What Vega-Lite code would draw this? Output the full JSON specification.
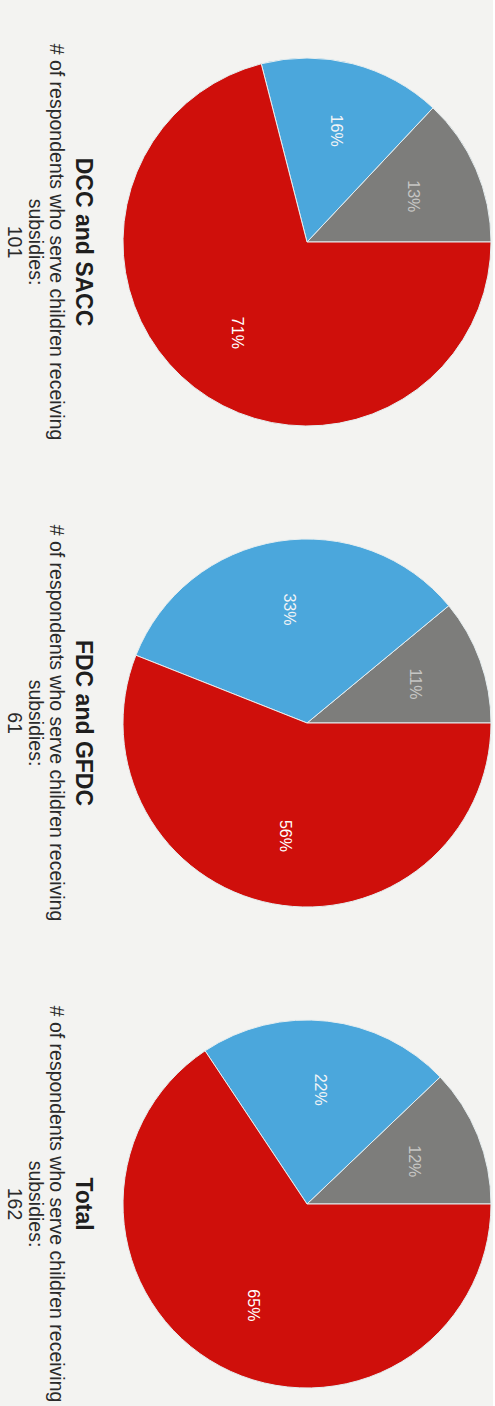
{
  "$schema": "https://vega.github.io/schema/vega-lite/v6.json",
  "background": "#f3f3f1",
  "padding": {"left": 3, "top": 7, "right": 0, "bottom": 0},
  "spacing": 11,
  "config": {
    "view": {"stroke": null},
    "font": "Liberation Sans",
    "title": {
      "orient": "left",
      "angle": 90,
      "anchor": "middle",
      "font": "Liberation Sans",
      "fontSize": 23,
      "fontWeight": "bold",
      "color": "#1e1e1e",
      "offset": 0
    }
  },
  "data": {
    "values": [
      {"panel": "DCC and SACC", "segment": 1, "share": 0.13},
      {"panel": "DCC and SACC", "segment": 2, "share": 0.16},
      {"panel": "DCC and SACC", "segment": 3, "share": 0.71},
      {"panel": "FDC and GFDC", "segment": 1, "share": 0.11},
      {"panel": "FDC and GFDC", "segment": 2, "share": 0.33},
      {"panel": "FDC and GFDC", "segment": 3, "share": 0.56},
      {"panel": "Total", "segment": 1, "share": 0.12},
      {"panel": "Total", "segment": 2, "share": 0.22},
      {"panel": "Total", "segment": 3, "share": 0.65}
    ]
  },
  "vconcat": [
    {
      "title": {"text": ["# of respondents who serve children receiving", "subsidies:", "101"], "fontWeight": "normal", "fontSize": 19.5, "lineHeight": 21, "color": "#2a2a2a", "offset": -55},
      "vconcat": [
        {
          "title": "DCC and SACC",
          "width": 370,
          "height": 470,
          "transform": [{"filter": "datum.panel === 'DCC and SACC'"}],
          "encoding": {
            "theta": {"field": "share", "type": "quantitative", "stack": true, "scale": {"range": [1.5708, -4.7124]}},
            "order": {"field": "segment", "type": "quantitative"}
          },
          "layer": [
            {
              "mark": {"type": "arc", "outerRadius": 184, "stroke": "#e6eef0", "strokeWidth": 1},
              "encoding": {"fill": {"field": "segment", "type": "nominal", "scale": {"domain": [1, 2, 3], "range": ["#7d7d7b", "#4ba7dc", "#cf0f0b"]}, "legend": null}}
            },
            {
              "mark": {"type": "text", "radius": 115, "angle": 90, "fontSize": 16, "font": "Liberation Sans"},
              "encoding": {
                "text": {"field": "share", "type": "quantitative", "format": ".0%"},
                "color": {"field": "segment", "type": "nominal", "scale": {"domain": [1, 2, 3], "range": ["#c6c6c4", "#f2f4f6", "#ffffff"]}, "legend": null}
              }
            }
          ]
        }
      ]
    },
    {
      "title": {"text": ["# of respondents who serve children receiving", "subsidies:", "61"], "fontWeight": "normal", "fontSize": 19.5, "lineHeight": 21, "color": "#2a2a2a", "offset": -55},
      "vconcat": [
        {
          "title": "FDC and GFDC",
          "width": 370,
          "height": 470,
          "transform": [{"filter": "datum.panel === 'FDC and GFDC'"}],
          "encoding": {
            "theta": {"field": "share", "type": "quantitative", "stack": true, "scale": {"range": [1.5708, -4.7124]}},
            "order": {"field": "segment", "type": "quantitative"}
          },
          "layer": [
            {
              "mark": {"type": "arc", "outerRadius": 184, "stroke": "#e6eef0", "strokeWidth": 1},
              "encoding": {"fill": {"field": "segment", "type": "nominal", "scale": {"domain": [1, 2, 3], "range": ["#7d7d7b", "#4ba7dc", "#cf0f0b"]}, "legend": null}}
            },
            {
              "mark": {"type": "text", "radius": 115, "angle": 90, "fontSize": 16, "font": "Liberation Sans"},
              "encoding": {
                "text": {"field": "share", "type": "quantitative", "format": ".0%"},
                "color": {"field": "segment", "type": "nominal", "scale": {"domain": [1, 2, 3], "range": ["#c6c6c4", "#c9dbe8", "#ffffff"]}, "legend": null}
              }
            }
          ]
        }
      ]
    },
    {
      "title": {"text": ["# of respondents who serve children receiving", "subsidies:", "162"], "fontWeight": "normal", "fontSize": 19.5, "lineHeight": 21, "color": "#2a2a2a", "offset": -55},
      "vconcat": [
        {
          "title": "Total",
          "width": 370,
          "height": 470,
          "transform": [{"filter": "datum.panel === 'Total'"}],
          "encoding": {
            "theta": {"field": "share", "type": "quantitative", "stack": true, "scale": {"range": [1.5708, -4.7124]}},
            "order": {"field": "segment", "type": "quantitative"}
          },
          "layer": [
            {
              "mark": {"type": "arc", "outerRadius": 184, "stroke": "#e6eef0", "strokeWidth": 1},
              "encoding": {"fill": {"field": "segment", "type": "nominal", "scale": {"domain": [1, 2, 3], "range": ["#7d7d7b", "#4ba7dc", "#cf0f0b"]}, "legend": null}}
            },
            {
              "mark": {"type": "text", "radius": 115, "angle": 90, "fontSize": 16, "font": "Liberation Sans"},
              "encoding": {
                "text": {"field": "share", "type": "quantitative", "format": ".0%"},
                "color": {"field": "segment", "type": "nominal", "scale": {"domain": [1, 2, 3], "range": ["#c6c6c4", "#f2f4f6", "#ffffff"]}, "legend": null}
              }
            }
          ]
        }
      ]
    }
  ]
}
